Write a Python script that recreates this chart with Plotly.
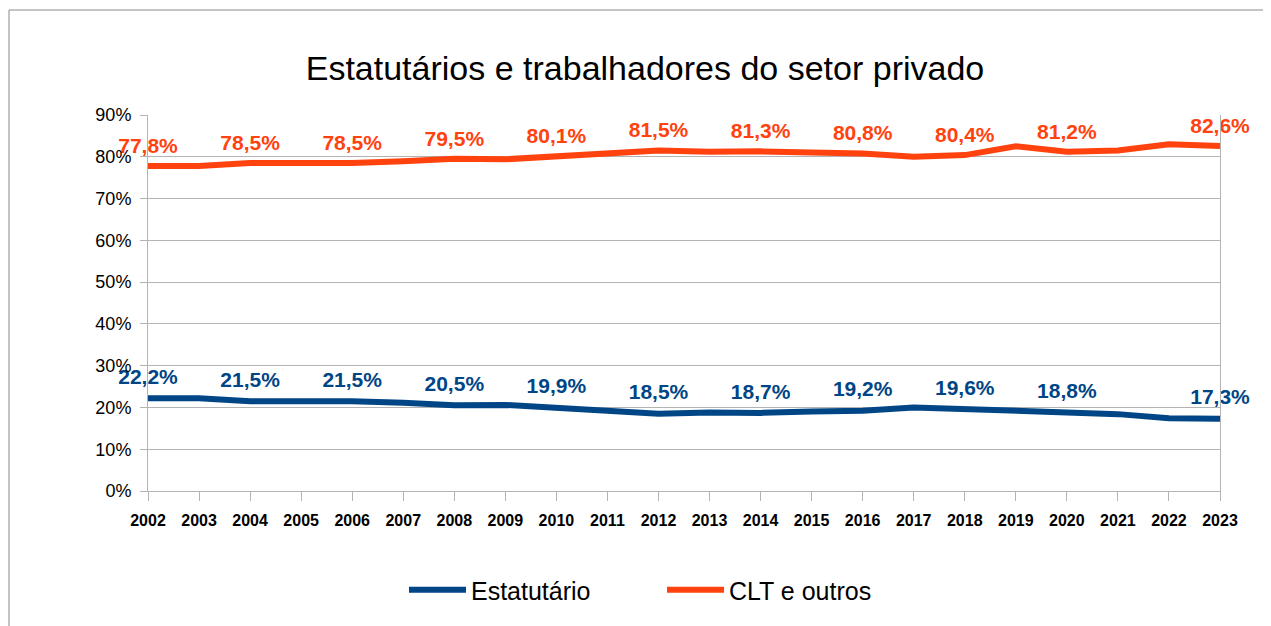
import plotly.graph_objects as go

years = list(range(2002, 2024))
estatutario = [22.2, 22.2, 21.5, 21.5, 21.5, 21.1, 20.5, 20.6, 19.9, 19.2, 18.5,
               18.8, 18.7, 19.0, 19.2, 20.0, 19.6, 19.2, 18.8, 18.4, 17.4, 17.3]
clt_outros = [77.8, 77.8, 78.5, 78.5, 78.5, 78.9, 79.5, 79.4, 80.1, 80.8, 81.5,
              81.2, 81.3, 81.0, 80.8, 80.0, 80.4, 82.5, 81.2, 81.5, 83.0, 82.6]
label_years = [2002, 2004, 2006, 2008, 2010, 2012, 2014, 2016, 2018, 2020, 2023]
y_ticks = [0, 10, 20, 30, 40, 50, 60, 70, 80, 90]

BLUE = "#004586"
ORANGE = "#FF420E"
FONT = "Liberation Sans"

# page offset of the plot div (default body margin)
OFF = 8
L, T = 148 - OFF, 115 - OFF
PW, PH = 1072, 376


def labels(vals):
    return [(f"{v:.1f}%".replace(".", ",") if y in label_years else "")
            for y, v in zip(years, vals)]


fig = go.Figure()
for name, vals, col, msize in [("Estatutário", estatutario, BLUE, 13),
                               ("CLT e outros", clt_outros, ORANGE, 11)]:
    fig.add_trace(go.Scatter(
        x=years, y=vals, name=name, mode="lines+markers+text",
        line=dict(color=col, width=6),
        marker=dict(size=msize, color="rgba(0,0,0,0)", line=dict(width=0)),
        text=labels(vals), textposition="top center", cliponaxis=False,
        textfont=dict(family=FONT, size=21, color=col, weight="bold"),
    ))

fig.update_layout(
    width=1271, height=626,
    margin=dict(l=L, r=1271 - L - PW, t=T, b=626 - T - PH),
    paper_bgcolor="white", plot_bgcolor="white",
    font=dict(family=FONT, color="#000000"),
    title=dict(text="Estatutários e trabalhadores do setor privado",
               font=dict(family=FONT, size=34, color="#000000"),
               x=(645 - OFF) / 1271, xref="container", xanchor="center",
               y=1 - (68 - OFF) / 626, yref="container", yanchor="middle"),
    legend=dict(orientation="h", x=(404 - 148) / PW, xanchor="left",
                y=(491 - 590) / PH, yanchor="middle",
                font=dict(family=FONT, size=25, color="#000000"),
                itemwidth=57, entrywidth=186, entrywidthmode="pixels"),
    showlegend=True,
)
fig.update_xaxes(
    range=[2002, 2023], tickmode="array", tickvals=years,
    ticktext=[str(y) for y in years],
    tickfont=dict(family=FONT, size=16, color="#000000", weight="bold"),
    showgrid=False, zeroline=False, showline=True, linecolor="#b3b3b3", linewidth=1,
    ticks="outside", ticklen=9, tickcolor="#b3b3b3", ticklabelstandoff=6,
)
fig.update_yaxes(
    range=[0, 90], tickmode="array", tickvals=y_ticks,
    ticktext=[f"{t}%" for t in y_ticks],
    tickfont=dict(family=FONT, size=18, color="#000000"),
    showgrid=True, gridcolor="#b3b3b3", gridwidth=1, zeroline=False,
    showline=True, linecolor="#b3b3b3", linewidth=1, mirror=True,
    ticks="outside", ticklen=7, tickcolor="#b3b3b3", ticklabelstandoff=5,
)
# outer chart frame
fig.add_shape(type="rect", xref="paper", yref="paper",
              x0=(9 - 148) / PW, x1=(1268 - 148) / PW,
              y0=(491 - 640) / PH, y1=(491 - 10) / PH,
              line=dict(color="#8a8a8a", width=1), fillcolor="rgba(0,0,0,0)",
              layer="below")

fig.write_html("out.html")
